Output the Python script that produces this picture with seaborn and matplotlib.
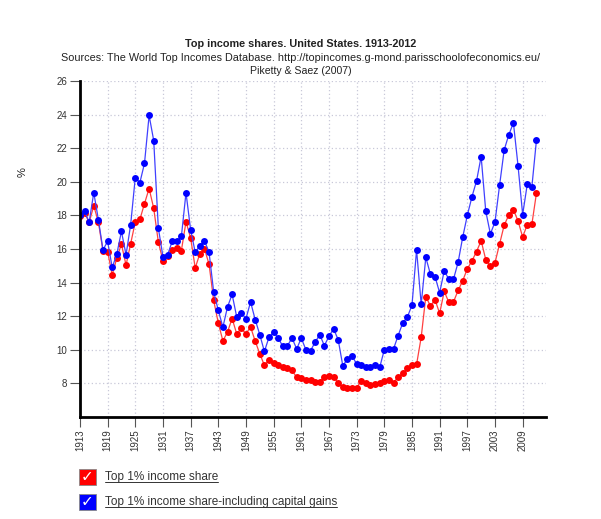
import matplotlib
matplotlib.use("Agg")
import matplotlib.pyplot as plt
from matplotlib.patches import Rectangle
from matplotlib.lines import Line2D
import seaborn as sns
import pandas as pd

years = list(range(1913, 2013))

top1_excl_cg = [
    17.96, 18.16, 17.58, 18.57, 17.60, 15.88, 15.84, 14.46, 15.47, 16.29,
    15.04, 16.32, 17.60, 17.76, 18.70, 19.60, 18.42, 16.42, 15.31, 15.56,
    15.93, 16.04, 15.91, 17.62, 16.66, 14.87, 15.72, 16.02, 15.09, 12.94,
    11.60, 10.53, 11.06, 11.86, 10.95, 11.27, 10.95, 11.36, 10.52, 9.76,
    9.08, 9.39, 9.24, 9.12, 9.00, 8.93, 8.77, 8.36, 8.34, 8.22,
    8.21, 8.10, 8.09, 8.41, 8.44, 8.39, 8.03, 7.80, 7.75, 7.75,
    7.74, 8.17, 8.03, 7.91, 7.94, 8.00, 8.15, 8.18, 8.03, 8.39,
    8.59, 8.89, 9.09, 9.13, 10.75, 13.17, 12.61, 12.98, 12.17, 13.48,
    12.82, 12.85, 13.53, 14.11, 14.82, 15.29, 15.85, 16.49, 15.37, 14.96,
    15.18, 16.30, 17.42, 18.02, 18.33, 17.67, 16.71, 17.45, 17.47, 19.34,
]

top1_incl_cg = [
    18.05, 18.25, 17.60, 19.35, 17.75, 15.95, 16.45, 14.90, 15.70, 17.05,
    15.65, 17.45, 20.25, 19.95, 21.10, 23.95, 22.45, 17.25, 15.55, 15.65,
    16.45, 16.45, 16.75, 19.35, 17.15, 15.80, 16.20, 16.50, 15.80, 13.45,
    12.35, 11.35, 12.55, 13.30, 11.95, 12.20, 11.85, 12.85, 11.80, 10.90,
    9.90, 10.75, 11.05, 10.70, 10.20, 10.25, 10.70, 10.05, 10.70, 10.00,
    9.95, 10.45, 10.90, 10.25, 10.80, 11.25, 10.60, 9.05, 9.45, 9.65,
    9.15, 9.10, 8.95, 8.95, 9.10, 8.95, 10.00, 10.05, 10.05, 10.85,
    11.60, 11.95, 12.65, 15.95, 12.70, 15.50, 14.50, 14.35, 13.40, 14.70,
    14.20, 14.20, 15.20, 16.70, 18.00, 19.10, 20.05, 21.50, 18.25, 16.90,
    17.60, 19.80, 21.90, 22.80, 23.50, 20.95, 18.05, 19.85, 19.70, 22.50,
]

xtick_years = list(range(1913, 2013, 6))
ytick_values = list(range(8, 27, 2))

series_labels = ["Top 1% income share", "Top 1% income share-including capital gains"]
series_colors = ["#ff0000", "#0000ff"]
line_colors = ["#ff4040", "#4040ff"]

df = pd.DataFrame({"year": years, "excl": top1_excl_cg, "incl": top1_incl_cg})

sns.set_style("white")
plt.rcParams["font.family"] = ["Liberation Sans", "DejaVu Sans"]

fig = plt.figure(figsize=(6.01, 5.19), dpi=100)
ax = fig.add_axes([0.133, 0.1965, 0.775, 0.6475])

for col, color, lcolor in zip(["excl", "incl"], series_colors, line_colors):
    sns.lineplot(
        data=df, x="year", y=col, ax=ax,
        color=lcolor, linewidth=0.9,
        marker="o", markersize=5, markeredgewidth=0,
        markerfacecolor=color,
    )

ax.set_xlim(1913, 2014)
ax.set_ylim(6, 26)
ax.set_xticks(xtick_years)
ax.set_xticklabels([str(y) for y in xtick_years], rotation=90, fontsize=7, color="#333333")
ax.set_yticks(ytick_values)
ax.set_yticklabels([str(v) for v in ytick_values], fontsize=7, color="#333333")
ax.tick_params(axis="both", direction="out", length=7, width=0.8, color="#555555", pad=2)
ax.tick_params(axis="x", bottom=True)
ax.tick_params(axis="y", left=True)

ax.grid(True, linestyle=(0, (1, 2)), color="#c8c8d8", linewidth=0.9)
for side in ["top", "right"]:
    ax.spines[side].set_visible(False)
for side in ["left", "bottom"]:
    ax.spines[side].set_color("black")
    ax.spines[side].set_linewidth(2)

ax.set_xlabel("")
ax.set_ylabel("%", fontsize=8, color="#222222")
ax.yaxis.set_label_coords(-0.112, 0.729)

fig.text(0.5, 0.909, "Top income shares. United States. 1913-2012",
         ha="center", fontsize=7.8, fontweight="bold", color="#222222")
fig.text(0.5, 0.883, "Sources: The World Top Incomes Database. http://topincomes.g-mond.parisschoolofeconomics.eu/",
         ha="center", fontsize=7.8, color="#222222")
fig.text(0.5, 0.858, "Piketty & Saez (2007)", ha="center", fontsize=7.6, color="#222222")

# checkbox style legend below the plot
W, H = 601, 519
for i, (label, color) in enumerate(zip(series_labels, series_colors)):
    ytop = 469 + i * 25
    box = Rectangle((79 / W, 1 - (ytop + 16) / H), 17 / W, 16 / H,
                    transform=fig.transFigure, facecolor=color,
                    edgecolor="#888888", linewidth=0.6)
    fig.patches.append(box)
    fig.text(87.5 / W, 1 - (ytop + 8) / H, "\u2713", ha="center", va="center",
             fontsize=11, color="white", fontweight="bold", family=["DejaVu Sans"])
    t = fig.text(105 / W, 1 - (ytop + 8) / H, label, ha="left", va="center",
                 fontsize=8.5, color="#333333")
    fig.canvas.draw()
    bb = t.get_window_extent().transformed(fig.transFigure.inverted())
    fig.lines.append(Line2D([bb.x0, bb.x1], [bb.y0 + 0.002, bb.y0 + 0.002],
                            transform=fig.transFigure, color="#333333", linewidth=0.7))

fig.savefig("out.png", dpi=100)
